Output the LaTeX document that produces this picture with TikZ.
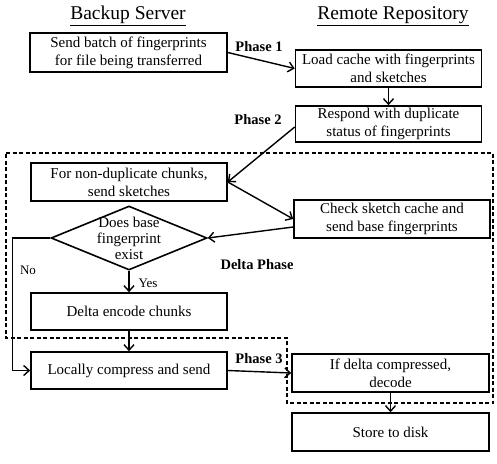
\documentclass[tikz,border=0pt]{standalone}
\usepackage{fontspec}
\setmainfont{Liberation Serif}
\usetikzlibrary{shapes.geometric,arrows.meta}
\begin{document}
\begin{tikzpicture}[x=1pt,y=-1pt,
  box/.style={draw,line width=1.6pt,align=center,inner sep=0pt,font=\fontsize{15}{18}\selectfont},
  arr/.style={line width=1.4pt,-{Straight Barb[length=5.5pt,width=10pt,line width=1.4pt]}},
  phase/.style={font=\bfseries\fontsize{14.5}{17}\selectfont},
  title/.style={font=\fontsize{19.5}{22}\selectfont},
  small/.style={font=\fontsize{13}{15}\selectfont},
  dashbox/.style={line width=1.4pt,dash pattern=on 4pt off 2.5pt}]
\useasboundingbox (0,0) rectangle (497,463);
% titles
\node[title] (t1) at (128,16) {\underline{Backup Server}};
\node[title] (t2) at (393,16) {\underline{Remote Repository}};
% dashed delta region
\draw[dashbox] (6,153) -- (493,153) -- (493,403) -- (287,403) -- (287,338) -- (6,338) -- cycle;
% boxes
\node[box,minimum width=186pt,minimum height=37pt] (B) at (388.5,68.5) {Load cache with fingerprints\\and sketches};
\node[box,minimum width=186pt,minimum height=36pt] (C) at (388.5,124) {Respond with duplicate\\status of fingerprints};
\node[box,minimum width=197pt,minimum height=39pt] (A) at (128.5,52.5) {Send batch of fingerprints\\for file being transferred};
\node[box,minimum width=196pt,minimum height=38pt] (D) at (129,182) {For non-duplicate chunks,\\send sketches};
\node[box,minimum width=196pt,minimum height=38pt] (E) at (392,219) {Check sketch cache and\\send base fingerprints};
\node[draw,diamond,line width=1.6pt,inner sep=0pt,minimum width=156pt,minimum height=64pt] (Dia) at (129,238) {};
\node[align=center,inner sep=0pt,font=\fontsize{15}{16}\selectfont] (DiaT) at (129,238) {Does base\\fingerprint\\exist};
\node[box,minimum width=196pt,minimum height=37pt] (F) at (129,311.5) {Delta encode chunks};
\node[box,minimum width=196pt,minimum height=37pt] (G) at (129,370.5) {Locally compress and send};
\node[box,minimum width=197pt,minimum height=38pt] (H) at (390.5,373) {If delta compressed,\\decode};
\node[box,minimum width=197pt,minimum height=38pt] (I) at (390.5,432) {Store to disk};
% labels
\node[phase] (p1) at (259,47) {Phase 1};
\node[phase] (p2) at (258,120) {Phase 2};
\node[phase] (p3) at (259,359) {Phase 3};
\node[phase] (dp) at (257,265) {Delta Phase};
\node[small] (yes) at (148,283) {Yes};
\node[small] (no) at (28,270) {No};
% connectors
\draw[arr] (A.east) -- (B.west);
\draw[arr] (B.south) -- (C.north);
\draw[arr] ([yshift=-3pt]C.west) -- (D.east);
\draw[arr] (D.east) -- (E.west);
\draw[arr] ([yshift=-8pt]E.west) -- (Dia.east);
\draw[arr] (Dia.south) -- (F.north);
\draw[arr] (F.south) -- (G.north);
\draw[arr] (Dia.west) -- ++(-38,0) |- (G.west);
\draw[arr] (G.east) -- (H.west);
\draw[arr] (H.south) -- (I.north);
\end{tikzpicture}
\end{document}
